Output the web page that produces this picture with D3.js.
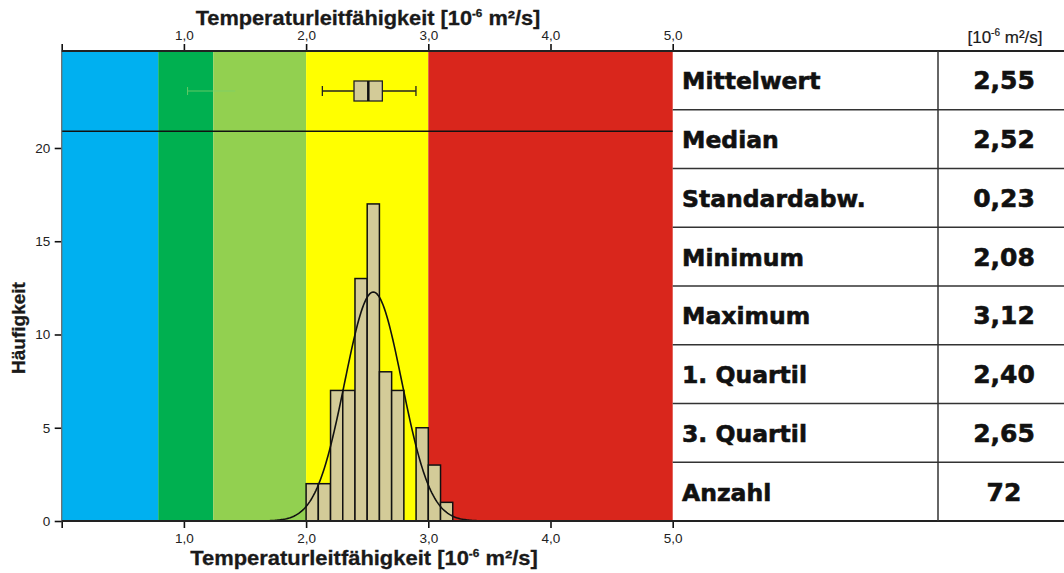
<!DOCTYPE html>
<html>
<head>
<meta charset="utf-8">
<script src="https://cdn.jsdelivr.net/npm/d3@7"></script>
<style>
  html, body { margin: 0; padding: 0; background: #fff; }
  svg { display: block; }
</style>
</head>
<body>
<svg id="chart" width="1064" height="573"></svg>
<script>
// ---------- data ----------
const binStarts   = [2.0, 2.1, 2.2, 2.3, 2.4, 2.5, 2.6, 2.7, 2.8, 2.9, 3.0, 3.1];
const binCounts   = [2,   2,   7,   7,   13,  17,  8,   7,   0,   5,   3,   1];
const binWidth    = 0.1;
const bandStarts  = [0.0, 0.79, 1.24, 2.0, 3.0];
const bandEnds    = [0.79, 1.24, 2.0, 3.0, 5.0];
const bandColors  = ["#00b0f0", "#00b050", "#92d050", "#ffff00", "#d9261c"];
const boxStats    = [2.133, 2.392, 2.509, 2.624, 2.899]; // whiskerLow, Q1, median, Q3, whiskerHigh
const ghostWhisker = [1.03, 1.42];
const xTicks      = [0, 1, 2, 3, 4, 5];
const yTicks      = [0, 5, 10, 15, 20];
const statLabels  = ["Mittelwert", "Median", "Standardabw.", "Minimum", "Maximum", "1. Quartil", "3. Quartil", "Anzahl"];
const statValues  = ["2,55", "2,52", "0,23", "2,08", "3,12", "2,40", "2,65", "72"];
const fitMean = 2.55, fitSd = 0.234, nTotal = 72;
const panelSplit = 20.9;

// ---------- layout ----------
const svg = d3.select("#chart");
const pLeft = 61.7, pRight = 672.7, pTop = 51, pBottom = 521;
const x = d3.scaleLinear().domain([0, 5]).range([pLeft, pRight]);
const y = d3.scaleLinear().domain([0, 25.2]).range([pBottom, pTop]);
const fmt = v => d3.format(".1f")(v).replace(".", ",");

// colour bands
svg.append("g").selectAll("rect").data(bandColors).join("rect")
  .attr("x", (d, i) => x(bandStarts[i]))
  .attr("width", (d, i) => x(bandEnds[i]) - x(bandStarts[i]))
  .attr("y", pTop).attr("height", pBottom - pTop)
  .attr("fill", d => d);

// histogram bars
const bins = binStarts.map((s, i) => ({ s, c: binCounts[i] })).filter(b => b.c > 0);
svg.append("g").selectAll("rect").data(bins).join("rect")
  .attr("x", b => x(b.s))
  .attr("width", b => x(b.s + binWidth) - x(b.s))
  .attr("y", b => y(b.c))
  .attr("height", b => y(0) - y(b.c))
  .attr("fill", "#d3cb98")
  .attr("stroke", "#111")
  .attr("stroke-width", 1.5);

// normal fit curve
const xs = d3.range(1.3, 3.81, 0.01);
const dens = v => nTotal * binWidth / (fitSd * Math.sqrt(2 * Math.PI)) * Math.exp(-0.5 * ((v - fitMean) / fitSd) ** 2);
svg.append("path")
  .datum(xs)
  .attr("d", d3.line().x(v => x(v)).y(v => y(dens(v))))
  .attr("fill", "none").attr("stroke", "#111").attr("stroke-width", 1.6);

// panel split line
svg.append("line")
  .attr("x1", pLeft).attr("x2", pRight)
  .attr("y1", y(panelSplit)).attr("y2", y(panelSplit))
  .attr("stroke", "#111").attr("stroke-width", 1.5);

// box plot
const bc = 91, bh = 10, capH = 5;
const bp = svg.append("g").attr("stroke", "#222").attr("stroke-width", 1.3);
bp.append("line").attr("x1", x(boxStats[0])).attr("x2", x(boxStats[1])).attr("y1", bc).attr("y2", bc);
bp.append("line").attr("x1", x(boxStats[3])).attr("x2", x(boxStats[4])).attr("y1", bc).attr("y2", bc);
bp.append("line").attr("x1", x(boxStats[0])).attr("x2", x(boxStats[0])).attr("y1", bc - capH).attr("y2", bc + capH);
bp.append("line").attr("x1", x(boxStats[4])).attr("x2", x(boxStats[4])).attr("y1", bc - capH).attr("y2", bc + capH);
bp.append("rect").attr("x", x(boxStats[1])).attr("width", x(boxStats[3]) - x(boxStats[1]))
  .attr("y", bc - bh).attr("height", 2 * bh).attr("fill", "#d3cb98");
bp.append("line").attr("x1", x(boxStats[2])).attr("x2", x(boxStats[2])).attr("y1", bc - bh).attr("y2", bc + bh)
  .attr("stroke-width", 2.5).attr("stroke", "#111");
// faint ghost whisker
const gw = svg.append("g").attr("stroke", "#7ccf6a").attr("stroke-width", 1).attr("opacity", 0.8);
gw.append("line").attr("x1", x(ghostWhisker[0])).attr("x2", x(ghostWhisker[1])).attr("y1", bc).attr("y2", bc);
gw.append("line").attr("x1", x(ghostWhisker[0])).attr("x2", x(ghostWhisker[0])).attr("y1", bc - 4).attr("y2", bc + 4);

// ---------- axes ----------
const tickFont = "'Liberation Sans', Arial, sans-serif";
const bAx = svg.append("g").attr("transform", `translate(0,${pBottom})`)
  .call(d3.axisBottom(x).tickValues(xTicks).tickSize(7).tickSizeOuter(0).tickFormat(d => d === 0 ? "" : fmt(d)));
bAx.select(".domain").remove();
bAx.selectAll("line").attr("stroke", "#111").attr("stroke-width", 1.6);
bAx.selectAll("text").attr("font-family", tickFont).attr("font-size", 13.5).attr("fill", "#222").attr("dy", "0.9em");
const tAx = svg.append("g").attr("transform", `translate(0,${pTop})`)
  .call(d3.axisTop(x).tickValues(xTicks).tickSize(7).tickSizeOuter(0).tickFormat(d => d === 0 ? "" : fmt(d)));
tAx.select(".domain").remove();
tAx.selectAll("line").attr("stroke", "#111").attr("stroke-width", 1.6);
tAx.selectAll("text").attr("font-family", tickFont).attr("font-size", 13.5).attr("fill", "#222").attr("dy", "-0.1em");
const lAx = svg.append("g").attr("transform", `translate(${pLeft},0)`)
  .call(d3.axisLeft(y).tickValues(yTicks).tickSize(7).tickSizeOuter(0).tickFormat(d3.format("d")));
lAx.select(".domain").remove();
lAx.selectAll("line").attr("stroke", "#111").attr("stroke-width", 1.6);
lAx.selectAll("text").attr("font-family", tickFont).attr("font-size", 13.5).attr("fill", "#222").attr("dx", "-0.1em");
svg.append("line").attr("x1", pLeft).attr("x2", pLeft).attr("y1", pTop).attr("y2", pBottom)
  .attr("stroke", "#666").attr("stroke-width", 1.2);

svg.append("line").attr("x1", pLeft).attr("x2", 1064).attr("y1", pTop).attr("y2", pTop)
  .attr("stroke", "#222").attr("stroke-width", 1.8);
svg.append("line").attr("x1", pLeft).attr("x2", 1064).attr("y1", pBottom).attr("y2", pBottom)
  .attr("stroke", "#222").attr("stroke-width", 1.8);

// ---------- titles ----------
function fitWidth(sel, targetW) {
  const bb = sel.node().getBBox();
  const s = targetW / bb.width;
  const cx = bb.x + bb.width / 2;
  sel.attr("transform", `translate(${cx},0) scale(${s},1) translate(${-cx},0)`);
}
function axisTitle(cx, baseline, w) {
  const t = svg.append("text")
    .attr("x", cx).attr("y", baseline).attr("text-anchor", "middle")
    .attr("font-family", tickFont).attr("font-weight", "bold").attr("font-size", 20.5).attr("fill", "#1a1a1a")
    .attr("stroke", "#1a1a1a").attr("stroke-width", 0.3);
  t.append("tspan").text("Temperaturleitfähigkeit [10");
  t.append("tspan").attr("font-size", 11).attr("dy", -8).text("-6");
  t.append("tspan").attr("dy", 8).text(" m²/s]");
  fitWidth(t, w);
}
axisTitle(368, 25, 345);
axisTitle(364, 565, 348);

svg.append("text")
  .attr("transform", "translate(25,328) rotate(-90)")
  .attr("text-anchor", "middle")
  .attr("font-family", tickFont).attr("font-weight", "bold").attr("font-size", 19).attr("fill", "#1a1a1a")
  .attr("stroke", "#1a1a1a").attr("stroke-width", 0.3)
  .text("Häufigkeit");

// ---------- table ----------
const rowH = (pBottom - pTop) / statLabels.length;
const tbl = svg.append("g");
d3.range(1, statLabels.length).forEach(i => {
  tbl.append("line").attr("x1", pRight).attr("x2", 1064)
    .attr("y1", pTop + i * rowH).attr("y2", pTop + i * rowH)
    .attr("stroke", "#333").attr("stroke-width", 1.5);
});
tbl.append("line").attr("x1", 938).attr("x2", 938).attr("y1", pTop).attr("y2", pBottom)
  .attr("stroke", "#333").attr("stroke-width", 1.5);
const tableFont = "'DejaVu Sans', sans-serif";
statLabels.forEach((lab, i) => {
  const cy = pTop + (i + 0.5) * rowH;
  tbl.append("text").attr("x", 682).attr("y", cy + 9)
    .attr("font-family", tableFont).attr("font-weight", "bold").attr("font-size", 23.5)
    .attr("fill", "#111").attr("stroke", "#111").attr("stroke-width", 0.6)
    .text(lab);
  tbl.append("text").attr("x", 1004).attr("y", cy + 9).attr("text-anchor", "middle")
    .attr("font-family", tableFont).attr("font-weight", "bold").attr("font-size", 25)
    .attr("fill", "#111").attr("stroke", "#111").attr("stroke-width", 0.6)
    .text(statValues[i]);
});
const unit = svg.append("text").attr("x", 1005).attr("y", 43).attr("text-anchor", "middle")
  .attr("font-family", tickFont).attr("font-size", 17).attr("fill", "#1a1a1a")
  .attr("stroke", "#1a1a1a").attr("stroke-width", 0.2);
unit.append("tspan").text("[10");
unit.append("tspan").attr("font-size", 10).attr("dy", -7).text("-6");
unit.append("tspan").attr("dy", 7).text(" m²/s]");
</script>
</body>
</html>
